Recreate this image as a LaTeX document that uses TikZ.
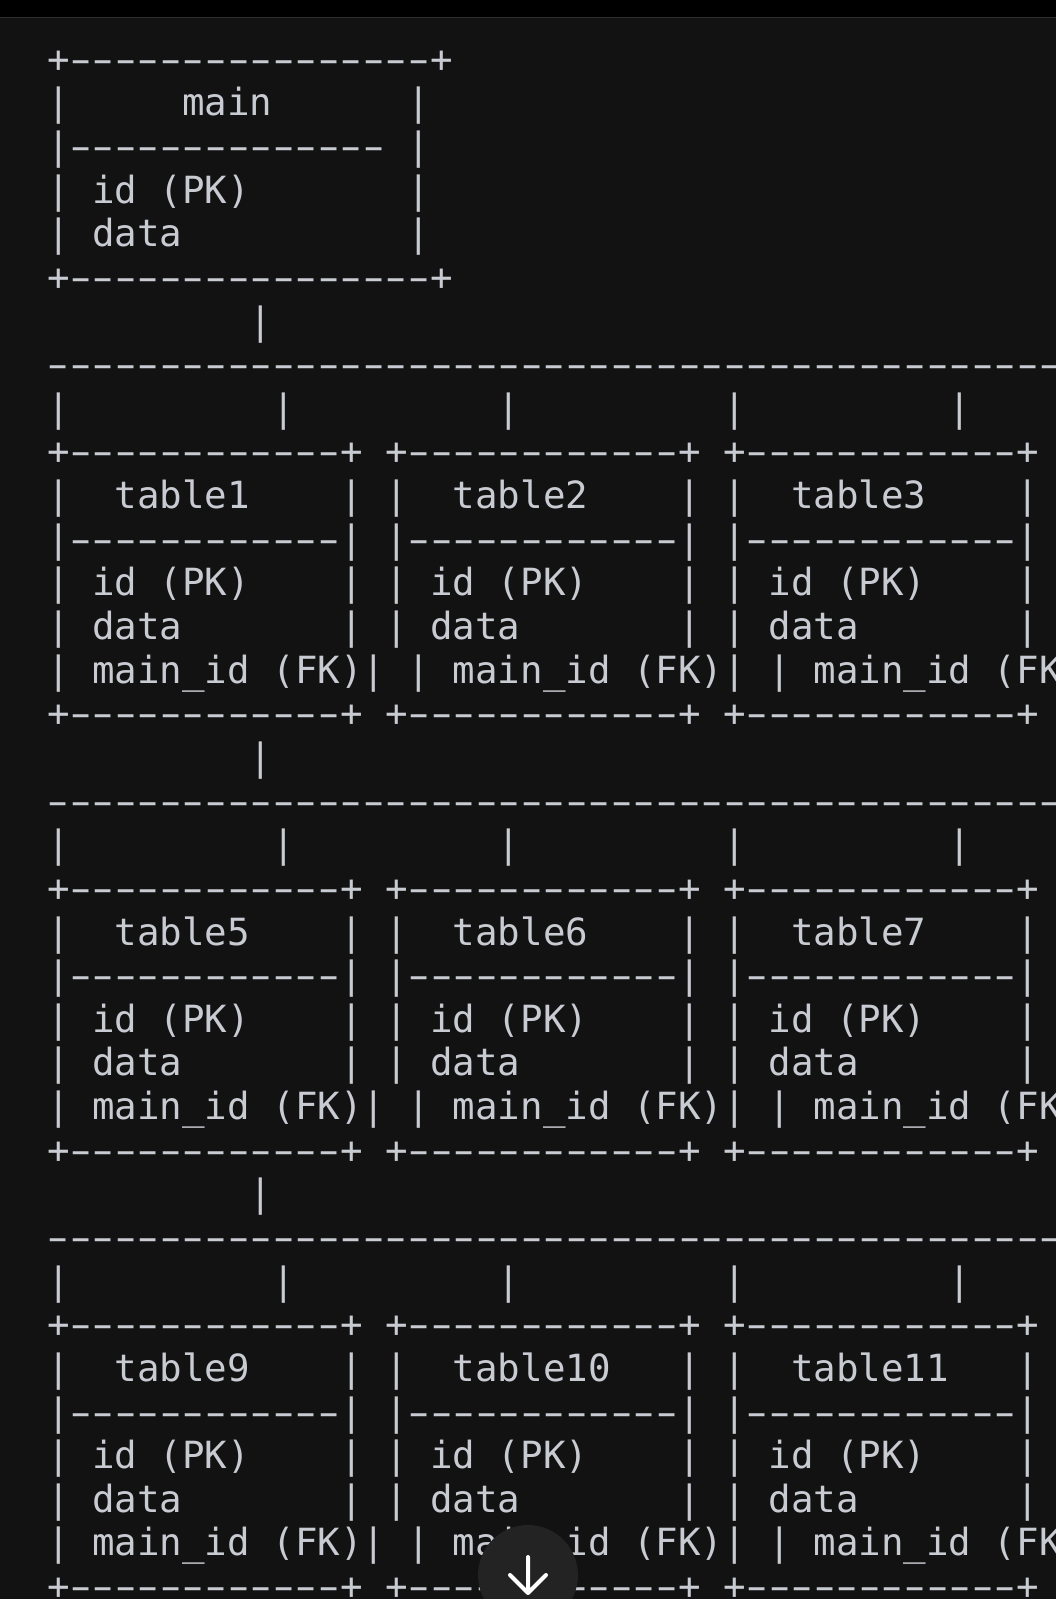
\documentclass[tikz,border=0pt]{standalone}
\usepackage{fontspec}
\usepackage{graphicx}
\setmonofont{DejaVu Sans Mono}
\definecolor{bgc}{HTML}{121212}
\definecolor{fgc}{HTML}{C8CBD2}
\definecolor{barc}{HTML}{000000}
\definecolor{barline}{HTML}{2E2E2E}
\definecolor{btnc}{HTML}{232323}
% a hyphen drawn as wide as the reference font draws it, in a monospace cell
\newcommand\hy{\makebox[0.60205em][c]{\scalebox{1.65}[1]{-}}}
\newcommand\hysix{\hy\hy\hy\hy\hy\hy}
\newcommand\axmaintop{+\hysix\hysix\hy\hy\hy\hy+}
\newcommand\axmainsep{|\hysix\hysix\hy\hy~|}
\newcommand\axbox{+\hysix\hysix+~+\hysix\hysix+~+\hysix\hysix+}
\newcommand\axsep{|\hysix\hysix|~|\hysix\hysix|~|\hysix\hysix|}
\newcommand\axid{|~id~(PK)~~~~|~|~id~(PK)~~~~|~|~id~(PK)~~~~|}
\newcommand\axdata{|~data~~~~~~~|~|~data~~~~~~~|~|~data~~~~~~~|}
\newcommand\axfk{|~main\_id~(FK)|~|~main\_id~(FK)|~|~main\_id~(FK)|}
\newcommand\axstem{~~~~~~~~~|}
\newcommand\axbus{\hysix\hysix\hysix\hysix\hysix\hysix\hysix\hysix}
\newcommand\axdrop{|~~~~~~~~~|~~~~~~~~~|~~~~~~~~~|~~~~~~~~~|}
\tikzset{
  ascii/.style={anchor=base west, inner sep=0pt, outer sep=0pt, text=fgc,
    font=\ttfamily\fontsize{28.09}{32.73}\selectfont},
}
\begin{document}
\begin{tikzpicture}[x=0.75pt,y=-0.75pt]
\useasboundingbox (0,0) rectangle (1056,1599);
\clip (0,0) rectangle (1056,1599);
\fill[bgc] (0,0) rectangle (1056,1599);
\fill[barc] (0,0) rectangle (1056,17.5);
\draw[barline, line width=0.75pt] (0,17.5) -- (1056,17.5);
\foreach \s [count=\k from 0] in {
  \axmaintop,
  |~~~~~main~~~~~~|,
  \axmainsep,
  |~id~(PK)~~~~~~~|,
  |~data~~~~~~~~~~|,
  \axmaintop,
  \axstem, \axbus, \axdrop, \axbox,
  |~~table1~~~~|~|~~table2~~~~|~|~~table3~~~~|,
  \axsep, \axid, \axdata, \axfk, \axbox,
  \axstem, \axbus, \axdrop, \axbox,
  |~~table5~~~~|~|~~table6~~~~|~|~~table7~~~~|,
  \axsep, \axid, \axdata, \axfk, \axbox,
  \axstem, \axbus, \axdrop, \axbox,
  |~~table9~~~~|~|~~table10~~~|~|~~table11~~~|,
  \axsep, \axid, \axdata, \axfk, \axbox}
{
  \node[ascii] (line\k) at (47, 72.2+43.64*\k) {\s};
}
% scroll-down button
\fill[btnc] (528,1575) circle (50);
\draw[white, line width=3pt, line cap=round, line join=round]
  (528,1557) -- (528,1592)
  (510,1575) -- (528,1593) -- (546,1575);
\end{tikzpicture}
\end{document}
